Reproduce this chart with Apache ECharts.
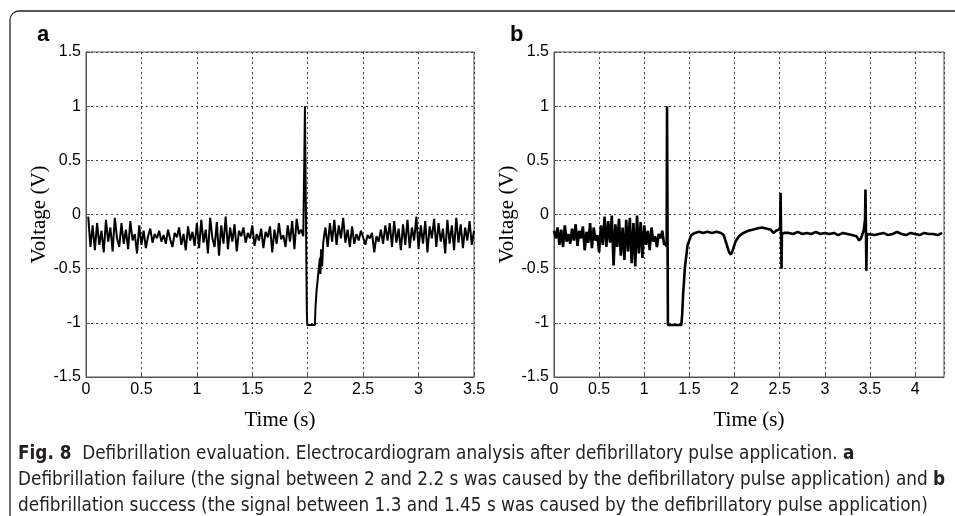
<!DOCTYPE html>
<html>
<head>
<meta charset="utf-8">
<script src="https://cdn.jsdelivr.net/npm/echarts@6/dist/echarts.min.js"></script>
<style>
  html, body { margin: 0; padding: 0; background: #fff; }
  #main { width: 955px; height: 516px; }
</style>
</head>
<body>
<div id="main"></div>
<script>
// ---- panel a : defibrillation failure ----
// ECG before the pulse, sampled every 0.02 s from 0.02 s
var aBefore = [
    -0.02, -0.30, -0.10, -0.33, -0.08, -0.28, -0.15, -0.35, -0.05, -0.25,
    -0.12, -0.34, -0.03, -0.22, -0.30, -0.08, -0.27, -0.14, -0.32, -0.06,
    -0.24, -0.18, -0.36, -0.10, -0.28, -0.15, -0.31, -0.20, -0.13, -0.26,
    -0.18, -0.22, -0.15, -0.25, -0.19, -0.27, -0.14, -0.23, -0.30, -0.17,
    -0.21, -0.12, -0.28, -0.18, -0.33, -0.11, -0.24, -0.16, -0.29, -0.08,
    -0.31, -0.05, -0.26, -0.14, -0.36, -0.03, -0.22, -0.30, -0.07, -0.38,
    -0.10, -0.27, -0.02, -0.32, -0.12, -0.25, -0.09, -0.34, -0.15, -0.20,
    -0.12, -0.26, -0.17, -0.22, -0.10, -0.29, -0.18, -0.24, -0.13, -0.31,
    -0.16, -0.21, -0.11, -0.35, -0.14, -0.27, -0.08, -0.23, -0.19, -0.30,
    -0.10, -0.25, -0.06, -0.32, -0.04, -0.18, -0.14, -0.20
];
// the pulse itself [time, voltage]
var aPulse = [
    [1.965, -0.20], [1.970, 0.57], [1.975, 1.00], [1.990, 1.00], [1.992, -0.90],
    [1.996, -1.02], [2.065, -1.02], [2.070, -0.86], [2.080, -0.70], [2.090, -0.60],
    [2.100, -0.50], [2.110, -0.40], [2.115, -0.55], [2.120, -0.32], [2.130, -0.48],
    [2.140, -0.26], [2.150, -0.18]
];
// ECG after the pulse, every 0.02 s from 2.16 s
var aAfter = [
    -0.12, -0.30, -0.08, -0.25, -0.05, -0.28, -0.10, -0.22, -0.03, -0.26,
    -0.14, -0.30, -0.11, -0.27, -0.18, -0.24, -0.15, -0.21, -0.28, -0.19,
    -0.22, -0.17, -0.35, -0.20, -0.25, -0.14, -0.27, -0.10, -0.24, -0.08,
    -0.30, -0.06, -0.26, -0.13, -0.33, -0.09, -0.28, -0.05, -0.31, -0.12,
    -0.24, -0.02, -0.32, -0.10, -0.27, -0.06, -0.35, -0.11, -0.22, -0.04,
    -0.30, -0.08, -0.25, -0.13, -0.36, -0.05, -0.27, -0.10, -0.33, -0.03,
    -0.26, -0.09, -0.31, -0.12, -0.24, -0.06, -0.28, -0.15
];

// ---- panel b : defibrillation success ----
// ECG before the pulse, every 0.02 s from 0 s
var bBefore = [
    -0.15, -0.22, -0.12, -0.28, -0.14, -0.30, -0.10, -0.25, -0.18, -0.27,
    -0.13, -0.24, -0.09, -0.29, -0.15, -0.22, -0.11, -0.33, -0.16, -0.26,
    -0.08, -0.31, -0.12, -0.24, -0.19, -0.35, -0.10, -0.28, -0.02, -0.30,
    -0.06, -0.26, -0.01, -0.47, -0.09, -0.30, -0.04, -0.38, -0.12, -0.42,
    -0.05, -0.34, -0.03, -0.45, -0.08, -0.48, -0.01, -0.36, -0.07, -0.40,
    -0.10, -0.28, -0.15, -0.33, -0.12, -0.25, -0.20, -0.30, -0.18, -0.22,
    -0.15, -0.28, -0.26
];
var bPulse = [
    [1.248, -0.30], [1.252, 1.00], [1.258, 1.00], [1.262, -1.02], [1.410, -1.02],
    [1.420, -0.92], [1.430, -0.74], [1.450, -0.49], [1.480, -0.28], [1.520, -0.19],
    [1.560, -0.17], [1.610, -0.16]
];
// recovered rhythm [time, voltage]
var bAfter = [
    [1.65, -0.17], [1.70, -0.16], [1.75, -0.17], [1.80, -0.16], [1.85, -0.17],
    [1.88, -0.19], [1.91, -0.27], [1.94, -0.35], [1.96, -0.37], [1.98, -0.33],
    [2.01, -0.25], [2.05, -0.20], [2.10, -0.17], [2.15, -0.15], [2.20, -0.14],
    [2.25, -0.13], [2.30, -0.12], [2.35, -0.13], [2.40, -0.14], [2.43, -0.17],
    [2.46, -0.15], [2.49, -0.14], [2.505, -0.12], [2.51, 0.20], [2.515, -0.15],
    [2.52, -0.50], [2.525, -0.18], [2.55, -0.17], [2.60, -0.17], [2.65, -0.18],
    [2.70, -0.16], [2.75, -0.18], [2.80, -0.17], [2.85, -0.18], [2.90, -0.16],
    [2.95, -0.18], [3.00, -0.17], [3.05, -0.18], [3.10, -0.17], [3.15, -0.19],
    [3.20, -0.17], [3.25, -0.18], [3.30, -0.19], [3.35, -0.20], [3.38, -0.24],
    [3.40, -0.22], [3.43, -0.15], [3.445, -0.05], [3.45, 0.23], [3.455, -0.10],
    [3.46, -0.52], [3.465, -0.20], [3.48, -0.18]
];
// tail, every 0.05 s from 3.5 s
var bTail = [
    -0.17, -0.19, -0.18, -0.17, -0.19, -0.18, -0.16, -0.18, -0.19, -0.17,
    -0.18, -0.19, -0.17, -0.18, -0.18, -0.19, -0.17
];

var yTicks = { min: -1.5, max: 1.5, interval: 0.5 };
var xMaxA = 3.5;
var xMaxB = 4.32;

var caption1 = '{b|Fig. 8}  Defibrillation evaluation. Electrocardiogram analysis after defibrillatory pulse application. {b|a}';
var caption2 = 'Defibrillation failure (the signal between 2 and 2.2 s was caused by the defibrillatory pulse application) and {b|b}';
var caption3 = 'defibrillation success (the signal between 1.3 and 1.45 s was caused by the defibrillatory pulse application)';

function sampled(t0, step, values) {
    return values.map(function (v, i) {
        return [+(t0 + i * step).toFixed(3), v];
    });
}

var dataA = sampled(0.02, 0.02, aBefore).concat(aPulse, sampled(2.16, 0.02, aAfter));
var dataB = sampled(0, 0.02, bBefore).concat(bPulse, bAfter, sampled(3.5, 0.05, bTail));

var tickFont = { color: '#000', fontFamily: 'Liberation Sans, Arial, sans-serif', fontSize: 16 };
var nameFont = { color: '#000', fontFamily: 'Liberation Serif, Times New Roman, serif', fontSize: 21 };
var dotted = { color: '#444', type: [2, 3], width: 1 };
var capFont = 'DejaVu Sans Condensed, Liberation Sans Narrow, sans-serif';

function xAxisFor(idx, max, hideMax) {
    return {
        type: 'value', gridIndex: idx, min: 0, max: max, interval: 0.5,
        name: 'Time (s)', nameLocation: 'middle', nameGap: 33, nameTextStyle: nameFont,
        axisLine: { show: true, onZero: false, lineStyle: { color: '#555' } },
        axisTick: { show: true, inside: true, length: 4, lineStyle: { color: '#555' } },
        axisLabel: Object.assign({ margin: 5, showMaxLabel: !hideMax }, tickFont),
        splitLine: { show: true, lineStyle: dotted }
    };
}
function yAxisFor(idx) {
    return {
        type: 'value', gridIndex: idx, min: yTicks.min, max: yTicks.max, interval: yTicks.interval,
        name: 'Voltage (V)', nameLocation: 'middle', nameGap: 29, nameTextStyle: nameFont,
        axisLine: { show: true, onZero: false, lineStyle: { color: '#555' } },
        axisTick: { show: true, inside: true, length: 4, lineStyle: { color: '#555' } },
        axisLabel: Object.assign({ margin: 5 }, tickFont),
        splitLine: { show: true, lineStyle: dotted }
    };
}

var myChart = echarts.init(document.getElementById('main'), null, { renderer: 'canvas' });
var option = {
    backgroundColor: '#fff',
    animation: false,
    grid: [
        { left: 86, top: 52, width: 388, height: 325, show: true, borderColor: '#555', borderWidth: 1 },
        { left: 554, top: 52, width: 390, height: 325, show: true, borderColor: '#555', borderWidth: 1 }
    ],
    xAxis: [xAxisFor(0, xMaxA, false), xAxisFor(1, xMaxB, true)],
    yAxis: [yAxisFor(0), yAxisFor(1)],
    series: [
        {
            type: 'line', xAxisIndex: 0, yAxisIndex: 0, data: dataA,
            showSymbol: false, lineStyle: { color: '#000', width: 2 }
        },
        {
            type: 'line', xAxisIndex: 1, yAxisIndex: 1, data: dataB,
            showSymbol: false, lineStyle: { color: '#000', width: 2.6 }
        }
    ],
    graphic: [
        {
            type: 'rect', silent: true,
            shape: { x: 10, y: 11, width: 990, height: 560, r: 9 },
            style: { fill: 'none', stroke: '#222', lineWidth: 1.3 }
        },
        {
            type: 'text', left: 37, top: 24,
            style: { text: 'a', font: 'bold 22px Liberation Sans, Arial, sans-serif', fill: '#000' }
        },
        {
            type: 'text', left: 510, top: 24,
            style: { text: 'b', font: 'bold 22px Liberation Sans, Arial, sans-serif', fill: '#000' }
        },
        {
            type: 'group', left: 18, top: 445,
            children: [caption1, caption2, caption3].map(function (line, i) {
                return {
                    type: 'text', x: 0, y: i * 26,
                    style: {
                        text: line, fill: '#231f20',
                        font: '18.8px ' + capFont,
                        rich: { b: { fontWeight: 'bold', fontSize: 18.8, fontFamily: capFont } }
                    }
                };
            })
        }
    ]
};
myChart.setOption(option);
</script>
</body>
</html>
